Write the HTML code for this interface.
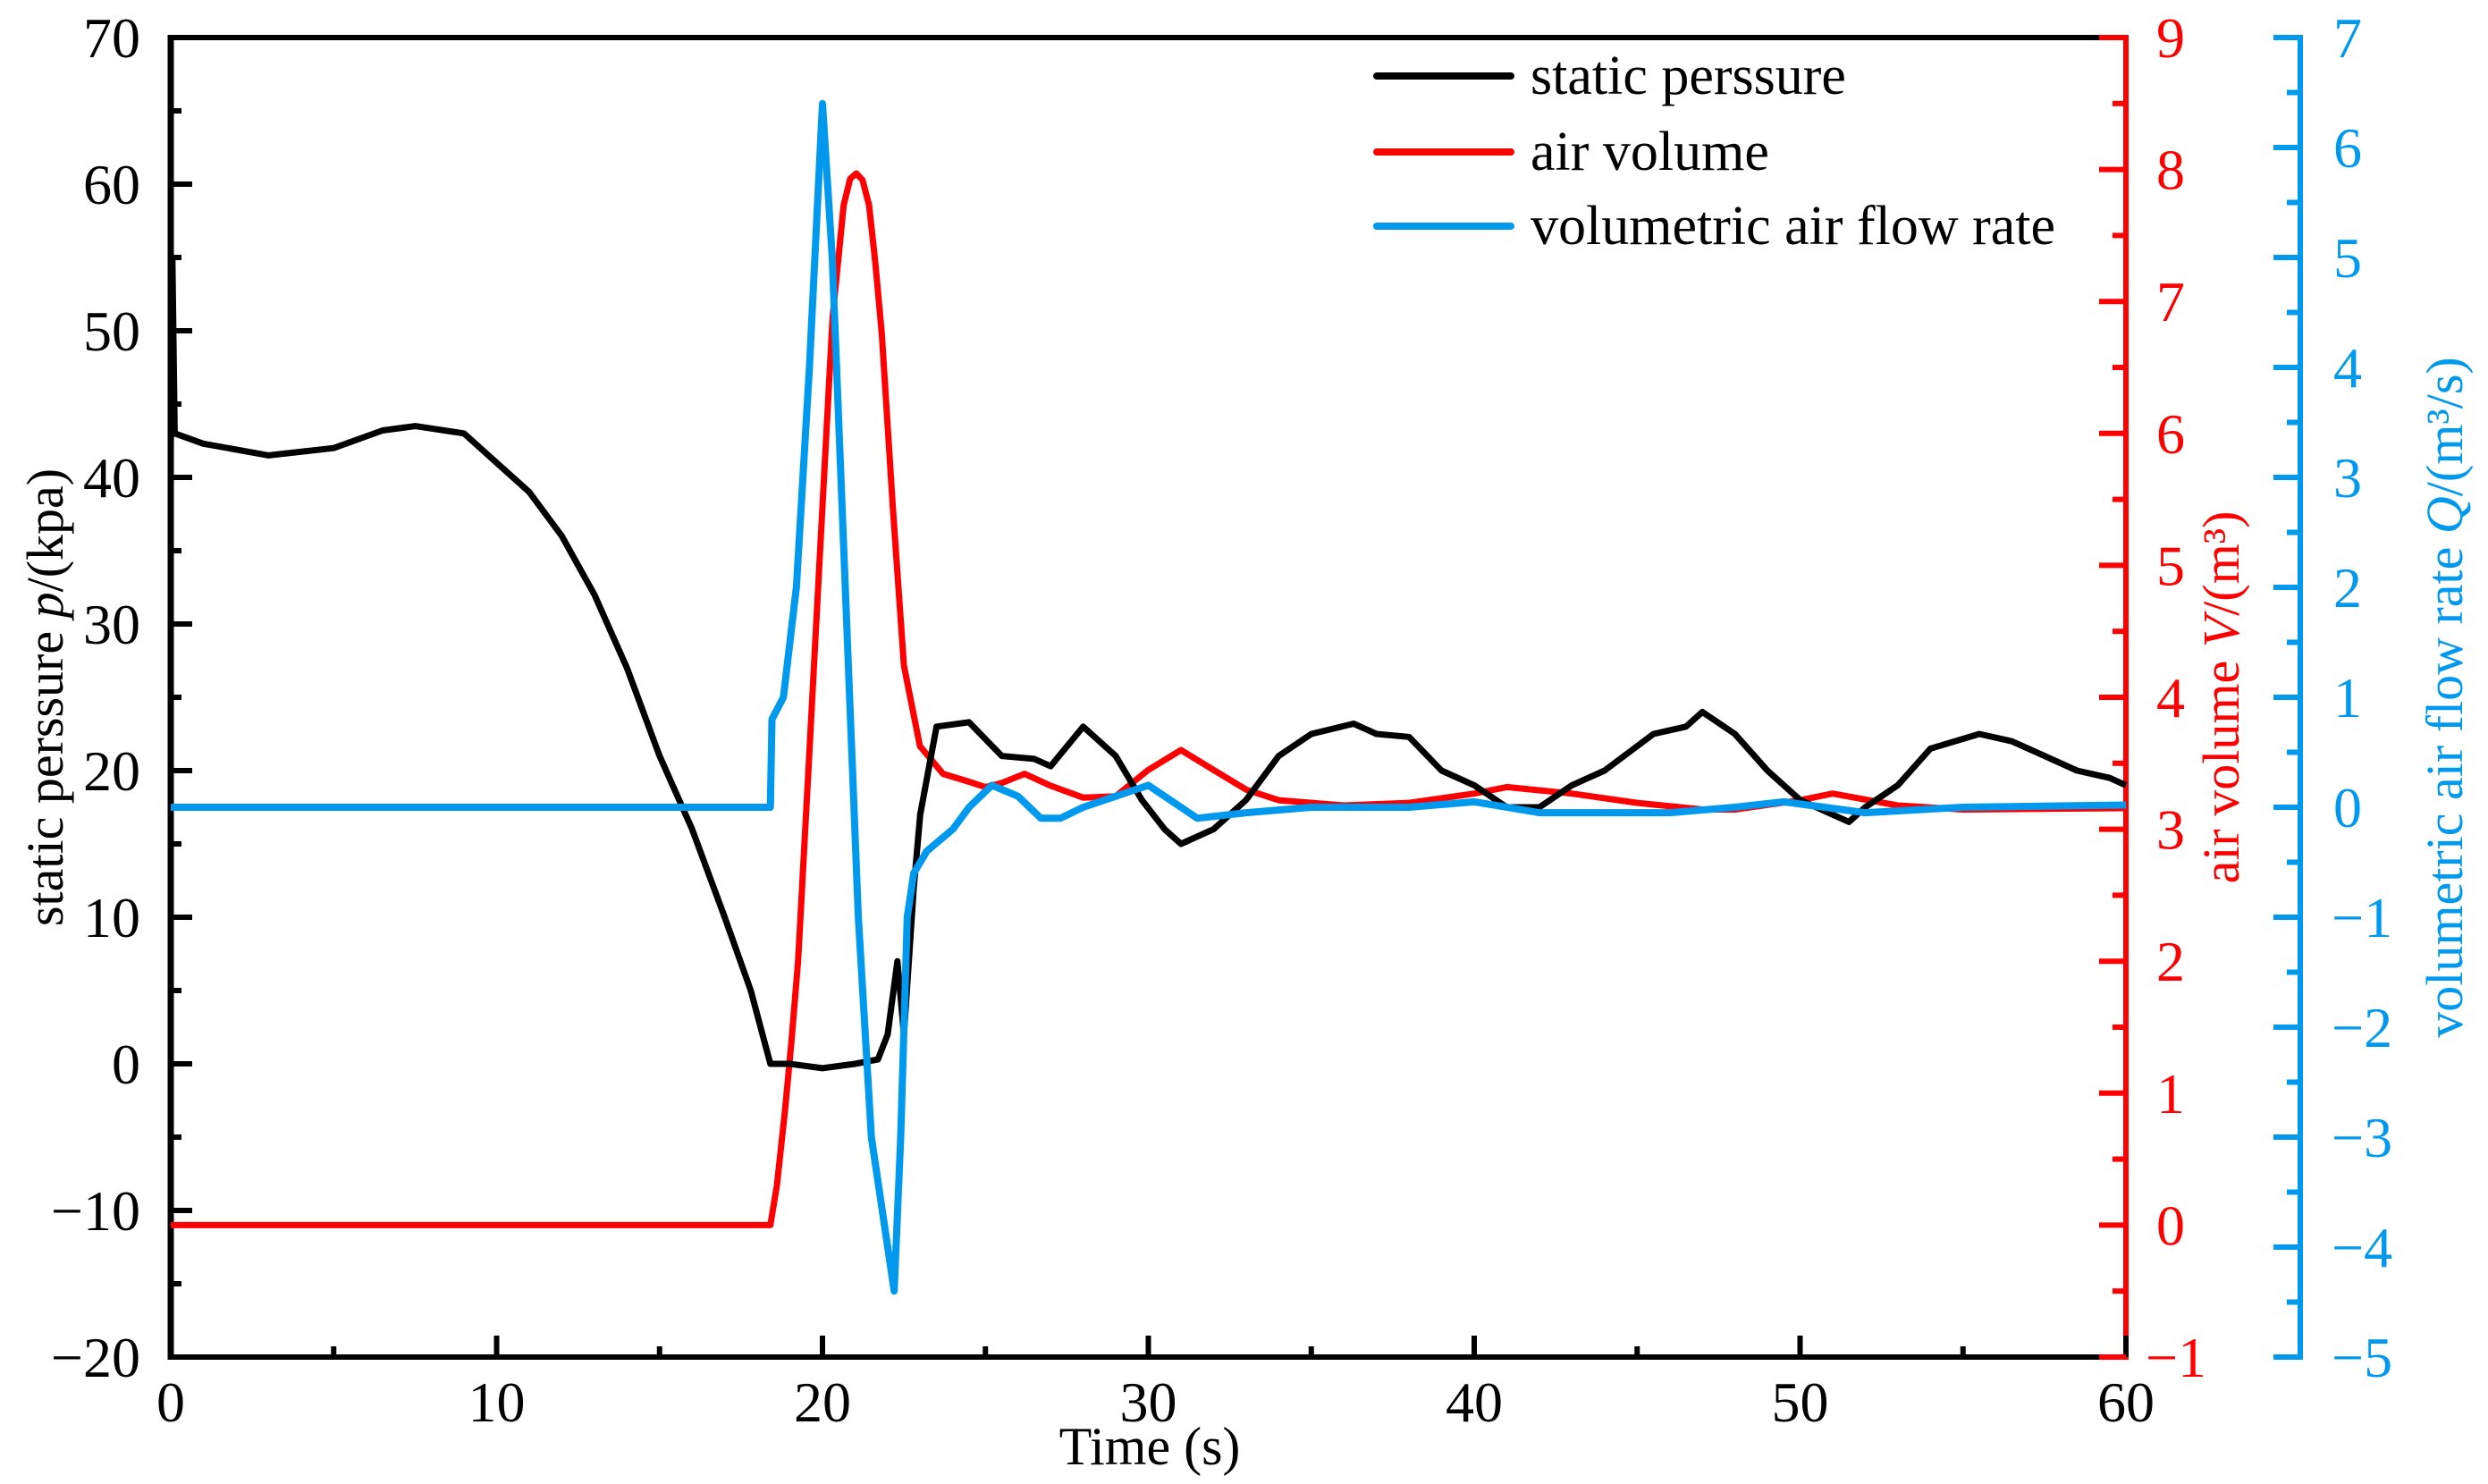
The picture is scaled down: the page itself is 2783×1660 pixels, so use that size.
<!DOCTYPE html>
<html><head><meta charset="utf-8"><style>
html,body{margin:0;padding:0;background:#fff}
svg{display:block}
text{font-family:"Liberation Serif","Times New Roman",serif}
</style></head><body>
<svg id="chart" width="2783" height="1660" viewBox="0 0 2783 1660" xmlns="http://www.w3.org/2000/svg">
<g id="axes"></g>
<g id="series"></g>
<g id="legend">
  <line x1="1540" y1="85" x2="1690" y2="85" stroke="#000" stroke-width="8" stroke-linecap="round"/>
  <text x="1712" y="105" font-size="62">static perssure</text>
  <line x1="1540" y1="170" x2="1690" y2="170" stroke="#ff0000" stroke-width="8" stroke-linecap="round"/>
  <text x="1712" y="190" font-size="62">air volume</text>
  <line x1="1540" y1="253" x2="1690" y2="253" stroke="#0099ee" stroke-width="8" stroke-linecap="round"/>
  <text x="1712" y="273" font-size="62">volumetric air flow rate</text>
</g>
<text x="1286" y="1638" font-size="60" text-anchor="middle">Time (s)</text>
<text transform="translate(70,780) rotate(-90)" font-size="58" text-anchor="middle">static perssure <tspan font-style="italic">p</tspan>/(kpa)</text>
<text transform="translate(2504,780) rotate(-90)" font-size="58" text-anchor="middle" fill="#ff0000">air volume <tspan font-style="italic">V</tspan>/(m³)</text>
<text transform="translate(2754,780) rotate(-90)" font-size="58" text-anchor="middle" fill="#0099ee">volumetric air flow rate <tspan font-style="italic">Q</tspan>/(m³/s)</text>
</svg>
<script>
// ---- data ----
const pTime = [0,0.05,0.12,1,3,5,6.5,7.5,9,10,11,12,13,14,15,16,17,17.8,18.4,19,20,21,21.7,22,22.3,22.5,22.8,23,23.5,24.5,25.5,26.5,27,28,29,29.8,30.5,31,32,33,34,35,36.3,37,38,39,40,41,42,43,44,45.5,46.5,47,48,49,50,51.5,52,53,54,55.5,56.5,57.5,58.5,59.5,60];
const pValues = [42,55,43,42.3,41.5,42,43.2,43.5,43,41,39,36,32,27,21,16,10,5,0,0,-0.3,0,0.3,2,7,2,12,17,23,23.3,21,20.8,20.3,23,21,18,16,15,16,18,21,22.5,23.2,22.5,22.3,20,19,17.5,17.5,19,20,22.5,23,24,22.5,20,18,16.5,17.5,19,21.5,22.5,22,21,20,19.5,19];
const vTime = [0,18.4,18.6,18.85,19.05,19.25,19.58,19.92,20.31,20.65,20.85,21.04,21.23,21.43,21.62,21.82,22.16,22.5,22.99,23.7,24.5,25,25.5,26.2,27,28,29,30,31,32,33,34,36,38,40,41,43,45,47,48,50,51,53,55,60];
const vValues = [0,0,0.3,0.87,1.4,2.0,3.5,5.08,6.88,7.73,7.93,7.97,7.92,7.73,7.3,6.76,5.44,4.24,3.63,3.42,3.36,3.32,3.35,3.42,3.33,3.24,3.25,3.45,3.6,3.45,3.3,3.22,3.18,3.2,3.27,3.32,3.27,3.2,3.15,3.15,3.22,3.27,3.18,3.15,3.16];
const qTime = [0,18.4,18.45,18.8,19.2,19.6,20.0,20.3,20.7,21.1,21.5,21.9,22.2,22.4,22.6,22.8,23.2,24,24.5,25.2,26,26.7,27.3,28,29,30,30.5,31.5,33,35,38,40,42,46,48,49.5,52,55,60];
const qValues = [0,0,0.8,1.0,2,4,6.4,5,2,-1,-3,-3.8,-4.4,-3,-1,-0.6,-0.4,-0.2,0,0.2,0.1,-0.1,-0.1,0,0.1,0.2,0.1,-0.1,-0.05,0,0,0.05,-0.05,-0.05,0,0.05,-0.05,0,0.02];
const xTicks = [0,10,20,30,40,50,60];
const pTicks = [-20,-10,0,10,20,30,40,50,60,70];
const vTicks = [-1,0,1,2,3,4,5,6,7,8,9];
const qTicks = [-5,-4,-3,-2,-1,0,1,2,3,4,5,6,7];
// ---- layout ----
const L=191,R=2378,T=42,B=1518,BX=2573;
const NS='http://www.w3.org/2000/svg';
const sx=t=>L+(t-0)/(60-0)*(R-L);
const sp=v=>B-(v+20)/90*(B-T);
const sv=v=>B-(v+1)/10*(B-T);
const sq=v=>B-(v+5)/12*(B-T);
function mk(tag,attrs,parent,txt){const e=document.createElementNS(NS,tag);for(const k in attrs)e.setAttribute(k,attrs[k]);if(txt!==undefined)e.textContent=txt;parent.appendChild(e);return e;}
const ax=document.getElementById('axes');
const fmt=v=>v<0?'\u2212'+Math.abs(v):String(v);
let e;
e=mk('line',{x1:L,y1:T,x2:R,y2:T,stroke:'#000','stroke-width':6},ax);

e=mk('line',{x1:L,y1:B,x2:R,y2:B,stroke:'#000','stroke-width':6},ax);

e=mk('line',{x1:L,y1:T-3,x2:L,y2:B+3,stroke:'#000','stroke-width':7},ax);

e=mk('line',{x1:R,y1:T-3,x2:R,y2:B+3,stroke:'#ff0000','stroke-width':6},ax);

e=mk('line',{x1:BX,y1:T-3,x2:BX,y2:B+3,stroke:'#0099ee','stroke-width':6},ax);

for(let t=0;t<=60;t+=5){const maj=t%10===0;e=mk('line',{x1:sx(t),y1:B,x2:sx(t),y2:B-(maj?24:12),stroke:'#000','stroke-width':6},ax);
}
xTicks.forEach(t=>{e=mk('text',{x:sx(t),y:1590,'font-size':64,'text-anchor':'middle'},ax,fmt(t));
});
for(let v=-20;v<=70;v+=5){const maj=v%10===0;e=mk('line',{x1:L,y1:sp(v),x2:L+(maj?24:12),y2:sp(v),stroke:'#000','stroke-width':6},ax);
}
pTicks.forEach(v=>{e=mk('text',{x:157,y:sp(v)+22,'font-size':64,'text-anchor':'end'},ax,fmt(v));
});
for(let v=-1;v<=9;v+=0.5){const maj=Math.abs(v%1)<1e-9;e=mk('line',{x1:R,y1:sv(v),x2:R-(maj?30:15),y2:sv(v),stroke:'#ff0000','stroke-width':6},ax);
}
vTicks.forEach(v=>{e=mk('text',{x:v<0?2400:2412,y:sv(v)+22,'font-size':64,fill:'#ff0000','text-anchor':'start'},ax,fmt(v));
});
for(let v=-5;v<=7;v+=0.5){const maj=Math.abs(v%1)<1e-9;e=mk('line',{x1:BX,y1:sq(v),x2:BX-(maj?30:15),y2:sq(v),stroke:'#0099ee','stroke-width':6},ax);
}
qTicks.forEach(v=>{e=mk('text',{x:v<0?2608:2610,y:sq(v)+22,'font-size':64,fill:'#0099ee','text-anchor':'start'},ax,fmt(v));
});
const sg=document.getElementById('series');
function path(ts,vs,fy){return ts.map((t,i)=>(i?'L':'M')+sx(t).toFixed(1)+','+fy(vs[i]).toFixed(1)).join('');}
e=mk('path',{d:path(vTime,vValues,sv),fill:'none',stroke:'#ff0000','stroke-width':7,'stroke-linejoin':'round'},sg);

e=mk('path',{d:path(pTime,pValues,sp),fill:'none',stroke:'#000','stroke-width':7,'stroke-linejoin':'round'},sg);

e=mk('path',{d:path(qTime,qValues,sq),fill:'none',stroke:'#0099ee','stroke-width':8,'stroke-linejoin':'round'},sg);

</script>
</body></html>
